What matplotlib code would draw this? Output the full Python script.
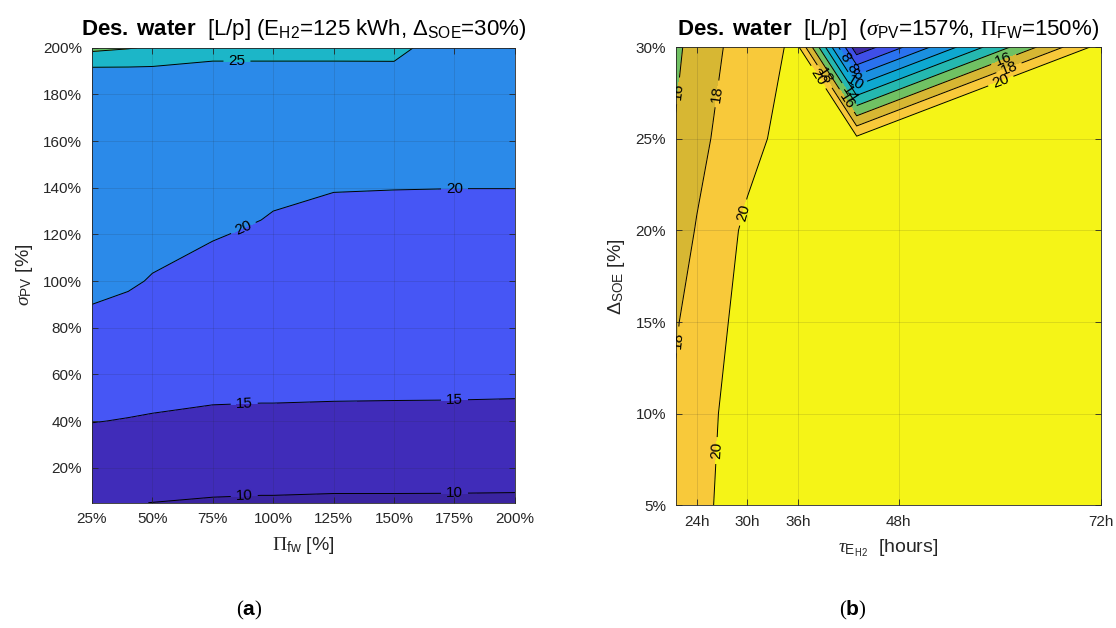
import numpy as np
import matplotlib
matplotlib.use("Agg")
import matplotlib.pyplot as plt

plt.rcParams["font.family"] = ["Liberation Sans", "DejaVu Sans"]
plt.rcParams["mathtext.fontset"] = "custom"
plt.rcParams["mathtext.rm"] = "Liberation Sans"
plt.rcParams["mathtext.it"] = "Liberation Serif:italic"
plt.rcParams["mathtext.bf"] = "Liberation Sans:bold"
plt.rcParams["mathtext.cal"] = "Liberation Serif"

# (a) desalinated water [L/p] over fresh-water price and PV size
pi_fw = [25, 40, 50, 75, 95, 100, 125, 150, 175, 200]
sigma_pv = [5, 20, 40, 60, 80, 100, 120, 140, 160, 180, 190, 200]
# one list per pi_fw column, values from bottom (5%) to top (200%)
water_a_cols = [
    [10.3, 12.4, 15.1, 17.1, 19.5, 20.5, 21.0, 21.5, 22.0, 22.6, 23.8, 31.2],
    [10.1, 12.1, 14.85, 16.9, 18.6, 20.4, 21.0, 21.6, 22.2, 22.8, 23.9, 30.3],
    [9.98, 12.0, 14.7, 16.5, 18.1, 19.8, 21.0, 21.6, 22.2, 22.9, 23.9, 29.5],
    [9.7, 11.6, 14.2, 16.5, 17.4, 18.8, 20.2, 21.0, 21.5, 22.0, 22.4, 28.5],
    [9.6, 11.5, 14.0, 16.6, 17.6, 18.6, 19.6, 20.9, 21.4, 21.9, 22.4, 28.5],
    [9.6, 11.5, 14.0, 16.6, 17.5, 18.5, 19.5, 20.5, 21.2, 21.8, 22.4, 28.5],
    [9.5, 11.4, 13.9, 16.5, 17.3, 18.2, 19.1, 20.1, 20.8, 21.6, 22.4, 28.5],
    [9.5, 11.4, 13.9, 16.4, 17.2, 18.0, 19.0, 20.05, 21.5, 23.0, 24.5, 25.7],
    [9.5, 11.35, 13.85, 16.4, 17.2, 18.0, 19.0, 20.02, 21.0, 22.0, 22.8, 23.5],
    [9.45, 11.35, 13.8, 16.3, 17.1, 17.9, 19.0, 20.02, 21.0, 21.8, 22.6, 23.3],
]
levels_a = [5, 10, 15, 20, 25, 30, 35]
colors_a = ["#3a24a0", "#402cb9", "#4656f5", "#2b8ae9", "#1cb6c8", "#66be62"]

# (b) desalinated water [L/p] over H2 storage hours and SOE window
tau_h = [21.5, 24, 30, 36, 43, 72]
delta_soe = [5, 10, 15, 20, 25, 30]
water_b_cols = [
    [18.6, 18.3, 17.8, 17.2, 16.2, 15.5],
    [19.5, 19.4, 19.0, 18.1, 17.5, 17.0],
    [21.0, 20.8, 20.6, 20.4, 19.3, 18.9],
    [21.3, 21.2, 21.2, 21.1, 21.05, 20.4],
    [21.3, 21.3, 21.2, 21.0, 20.5, 2.5],
    [21.4, 21.4, 21.3, 21.2, 21.0, 20.8],
]
levels_b = [2, 4, 6, 8, 10, 12, 14, 16, 18, 20, 22]
colors_b = ["#3e2ba8", "#3f4fe8", "#2a72ef", "#1b90e0", "#0ea8d0",
            "#25b8b0", "#70c163", "#d7b733", "#f8c93a", "#f5f417"]

ink = "#262626"

fig = plt.figure(figsize=(11.16, 6.28), dpi=100)
ax1 = fig.add_axes([0.0824, 0.1995, 0.379, 0.7245])
ax2 = fig.add_axes([0.6055, 0.1953, 0.3808, 0.7298])

# --- (a)
Z1 = np.array(water_a_cols).T
ax1.contourf(pi_fw, sigma_pv, Z1, levels=levels_a, colors=colors_a)
cs1 = ax1.contour(pi_fw, sigma_pv, Z1, levels=levels_a, colors="k", linewidths=0.7)
ax1.clabel(cs1, fontsize=11, fmt="%d",
           manual=[(85, 194.3), (88, 122), (175, 139.6), (88, 47.7),
                   (175, 49), (88, 8.2), (175, 9.2)])
ax1.set_xlim(25, 200)
ax1.set_ylim(5, 200)
ax1.set_xticks(range(25, 201, 25))
ax1.set_xticklabels([f"{v}%" for v in range(25, 201, 25)])
ax1.set_yticks(range(20, 201, 20))
ax1.set_yticklabels([f"{v}%" for v in range(20, 201, 20)])
ax1.set_xlabel(r"$\mathcal{\Pi}_{\rm fw}$ [%]", fontsize=14, color=ink, labelpad=6)
ax1.set_ylabel(r"$\sigma_{\rm PV}$ [%]", fontsize=14, color=ink, labelpad=6)
ax1.set_title(r"$\mathbf{Des.\ water}$  [L/p] (E$_{\rm H2}$=125 kWh, $\Delta_{\rm SOE}$=30%)",
              fontsize=16, pad=9)

# --- (b)
Z2 = np.array(water_b_cols).T
ax2.contourf(tau_h, delta_soe, Z2, levels=levels_b, colors=colors_b)
cs2 = ax2.contour(tau_h, delta_soe, Z2, levels=levels_b, colors="k", linewidths=0.7)
ax2.clabel(cs2, fontsize=11, fmt="%d",
           manual=[(21.9, 27.6), (25.5, 27.5), (22.2, 14), (29.3, 21), (25.9, 8),
                   (38.6, 28.4), (38.2, 28.1), (41.7, 29.45), (42.6, 28.9),
                   (42.9, 28.5), (43.1, 28.1), (42.4, 27.5), (41.9, 27.1),
                   (60.4, 29.4), (60.9, 29.1), (60, 28.3)])
ax2.set_xlim(21.5, 72)
ax2.set_ylim(5, 30)
ax2.set_xticks([24, 30, 36, 48, 72])
ax2.set_xticklabels(["24h", "30h", "36h", "48h", "72h"])
ax2.set_yticks(range(5, 31, 5))
ax2.set_yticklabels([f"{v}%" for v in range(5, 31, 5)])
ax2.set_xlabel(r"$\tau_{{\rm E}_{\rm H2}}$  [hours]", fontsize=14, color=ink, labelpad=6)
ax2.set_ylabel(r"$\Delta_{\rm SOE}$ [%]", fontsize=14, color=ink, labelpad=6)
ax2.set_title(r"$\mathbf{Des.\ water}$  [L/p]  ($\sigma_{\rm PV}$=157%, $\mathcal{\Pi}_{\rm FW}$=150%)",
              fontsize=16, pad=9)

for ax in (ax1, ax2):
    ax.set_axisbelow(False)
    ax.grid(True, color=ink, alpha=0.15, linewidth=0.6)
    ax.tick_params(direction="in", top=True, right=True, length=4, width=0.6,
                   labelsize=11, colors=ink, pad=7)
    for s in ax.spines.values():
        s.set_color(ink)
        s.set_linewidth(0.6)

fig.text(249 / 1116, 1 - 610 / 628, r"($\mathbf{a}$)", ha="center", va="center",
         fontsize=15, family="Liberation Serif")
fig.text(853 / 1116, 1 - 610 / 628, r"($\mathbf{b}$)", ha="center", va="center",
         fontsize=15, family="Liberation Serif")

fig.savefig("out.png", dpi=100)
